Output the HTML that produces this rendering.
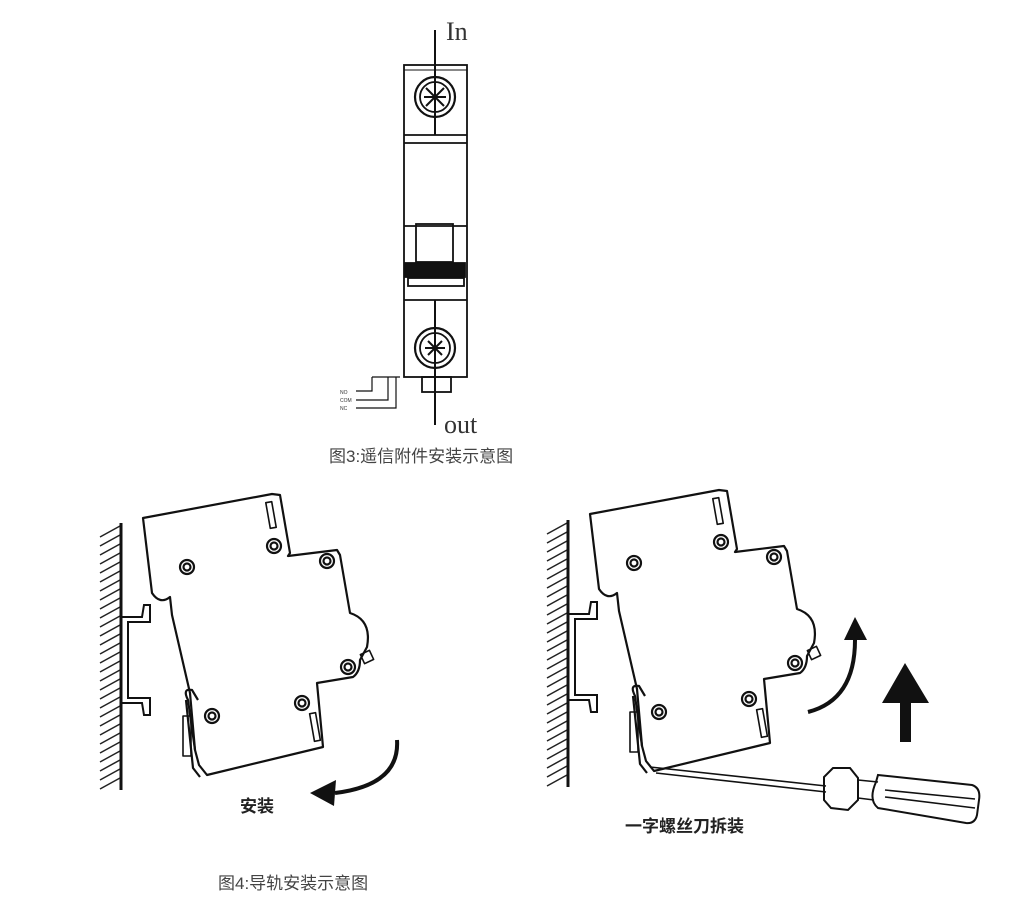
<!DOCTYPE html>
<html><head><meta charset="utf-8"><style>
html,body{margin:0;padding:0;background:#fff;}
svg{display:block;}
text{font-family:"Liberation Sans","Noto Sans CJK SC",sans-serif;}
</style></head><body>
<svg width="1029" height="918" viewBox="0 0 1029 918" xmlns="http://www.w3.org/2000/svg">
<defs>
<g id="hatch" stroke="#222" stroke-width="1.5">
<line x1="100" y1="537" x2="120" y2="526"/><line x1="100" y1="546" x2="120" y2="535"/><line x1="100" y1="555" x2="120" y2="544"/><line x1="100" y1="564" x2="120" y2="553"/><line x1="100" y1="573" x2="120" y2="562"/><line x1="100" y1="582" x2="120" y2="571"/><line x1="100" y1="591" x2="120" y2="580"/><line x1="100" y1="600" x2="120" y2="589"/><line x1="100" y1="609" x2="120" y2="598"/><line x1="100" y1="618" x2="120" y2="607"/><line x1="100" y1="627" x2="120" y2="616"/><line x1="100" y1="636" x2="120" y2="625"/><line x1="100" y1="645" x2="120" y2="634"/><line x1="100" y1="654" x2="120" y2="643"/><line x1="100" y1="663" x2="120" y2="652"/><line x1="100" y1="672" x2="120" y2="661"/><line x1="100" y1="681" x2="120" y2="670"/><line x1="100" y1="690" x2="120" y2="679"/><line x1="100" y1="699" x2="120" y2="688"/><line x1="100" y1="708" x2="120" y2="697"/><line x1="100" y1="717" x2="120" y2="706"/><line x1="100" y1="726" x2="120" y2="715"/><line x1="100" y1="735" x2="120" y2="724"/><line x1="100" y1="744" x2="120" y2="733"/><line x1="100" y1="753" x2="120" y2="742"/><line x1="100" y1="762" x2="120" y2="751"/><line x1="100" y1="771" x2="120" y2="760"/><line x1="100" y1="780" x2="120" y2="769"/><line x1="100" y1="789" x2="120" y2="778"/>
</g>
<g id="brk" fill="none" stroke="#111" stroke-width="2.2" stroke-linejoin="round">
<path d="M143,518 L272,494 L280,495 L290,553 L288,556 L337,550 L340,555 L350,613 Q372,620 367,647 L360,660 Q360,672 353,677 L317,683 L323,747 L207,775 L199,765 L195,750 L190,693 L187,680 L172,615 L170,597 Q160,605 152,593 Z"/>
<path d="M195,750 L188,700 Q182,688 192,690 L198,700" />
<path d="M186,700 L193,768 L200,777"/>
<rect x="183" y="716" width="8" height="40" stroke-width="1.6"/>
<rect x="268" y="502" width="6" height="26" transform="rotate(-10 271 515)" stroke-width="1.6"/>
<rect x="312" y="713" width="6" height="28" transform="rotate(-10 315 727)" stroke-width="1.6"/>
<rect x="362" y="652" width="10" height="10" transform="rotate(-25 367 657)" stroke-width="1.6"/>
<circle cx="187" cy="567" r="7"/><circle cx="187" cy="567" r="3.5"/>
<circle cx="274" cy="546" r="7"/><circle cx="274" cy="546" r="3.5"/>
<circle cx="327" cy="561" r="7"/><circle cx="327" cy="561" r="3.5"/>
<circle cx="348" cy="667" r="7"/><circle cx="348" cy="667" r="3.5"/>
<circle cx="302" cy="703" r="7"/><circle cx="302" cy="703" r="3.5"/>
<circle cx="212" cy="716" r="7"/><circle cx="212" cy="716" r="3.5"/>
</g>
<g id="wall">
<use href="#hatch"/>
<line x1="121" y1="523" x2="121" y2="790" stroke="#111" stroke-width="3"/>
<path d="M122,617 L142,617 L144,605 L150,605 L150,622 L128,622 L128,698 L150,698 L150,715 L144,715 L142,703 L122,703" fill="none" stroke="#111" stroke-width="2"/>
</g>
</defs>

<g fill="none" stroke="#111" stroke-width="1.8">
<rect x="404" y="65" width="63" height="312"/>
<line x1="404" y1="70" x2="467" y2="70" stroke-width="1"/>
<line x1="404" y1="135" x2="467" y2="135"/>
<line x1="404" y1="143" x2="467" y2="143"/>
<line x1="404" y1="226" x2="467" y2="226"/>
<rect x="416" y="224" width="37" height="38"/>
<rect x="405" y="263" width="60" height="14" fill="#111"/>
<rect x="408" y="278" width="56" height="8"/>
<line x1="404" y1="300" x2="467" y2="300"/>
<circle cx="435" cy="97" r="20" stroke-width="2.2"/>
<circle cx="435" cy="97" r="15"/>
<path d="M426,88 L444,106 M444,88 L426,106 M424,97 L446,97" stroke-width="2"/>
<circle cx="435" cy="348" r="20" stroke-width="2.2"/>
<circle cx="435" cy="348" r="15"/>
<path d="M425,348 L445,348 M435,338 L435,358 M428,341 L442,355 M442,341 L428,355" stroke-width="2"/>
<rect x="422" y="377" width="29" height="15"/>
<line x1="435" y1="30" x2="435" y2="135" stroke-width="2"/>
<line x1="435" y1="300" x2="435" y2="425" stroke-width="2"/>
<path d="M372,377 L372,391 L356,391 M388,377 L388,400 L356,400 M396,377 L396,408 L356,408" stroke-width="1.2"/>
<line x1="372" y1="377" x2="400" y2="377" stroke-width="1.2"/>
</g>
<text x="446" y="40" style="font-family:'Liberation Serif',serif" font-size="26" fill="#333">In</text>
<text x="444" y="433" style="font-family:'Liberation Serif',serif" font-size="26" fill="#333">out</text>
<text x="340" y="394" font-size="5" fill="#333">NO</text>
<text x="340" y="402" font-size="5" fill="#333">COM</text>
<text x="340" y="410" font-size="5" fill="#333">NC</text>
<text x="329" y="462" font-size="17" fill="#444">图3:遥信附件安装示意图</text>

<use href="#wall"/>
<use href="#brk"/>
<path d="M397,740 Q400,785 335,793" fill="none" stroke="#111" stroke-width="4"/>
<polygon points="310,793 336,780 334,806" fill="#111"/>
<text x="240" y="812" font-size="17" font-weight="bold" fill="#222">安装</text>

<use href="#wall" transform="translate(447,-3)"/>
<use href="#brk" transform="translate(447,-4)"/>
<path d="M808,712 Q855,700 855,640" fill="none" stroke="#111" stroke-width="4"/>
<polygon points="855,617 844,640 867,640" fill="#111"/>
<rect x="900" y="700" width="11" height="42" fill="#111"/>
<polygon points="905,663 882,703 929,703" fill="#111"/>
<g fill="none" stroke="#111" stroke-width="1.6">
<line x1="650" y1="767" x2="826" y2="786"/>
<line x1="656" y1="773" x2="826" y2="792"/>
<path d="M833,768 L850,768 L858,778 L858,800 L848,810 L831,808 L824,800 L824,777 Z" stroke-width="2"/>
<line x1="858" y1="780" x2="878" y2="782"/>
<line x1="858" y1="798" x2="874" y2="800"/>
<path d="M878,775 L972,785 Q981,788 979,800 L977,815 Q975,824 966,823 L878,808 Q868,800 876,782 Z" stroke-width="2"/>
<line x1="885" y1="790" x2="975" y2="799"/>
<line x1="885" y1="797" x2="975" y2="808"/>
</g>
<text x="625" y="832" font-size="17" font-weight="bold" fill="#222">一字螺丝刀拆装</text>

<text x="218" y="889" font-size="17" fill="#444">图4:导轨安装示意图</text>
</svg>
</body></html>
